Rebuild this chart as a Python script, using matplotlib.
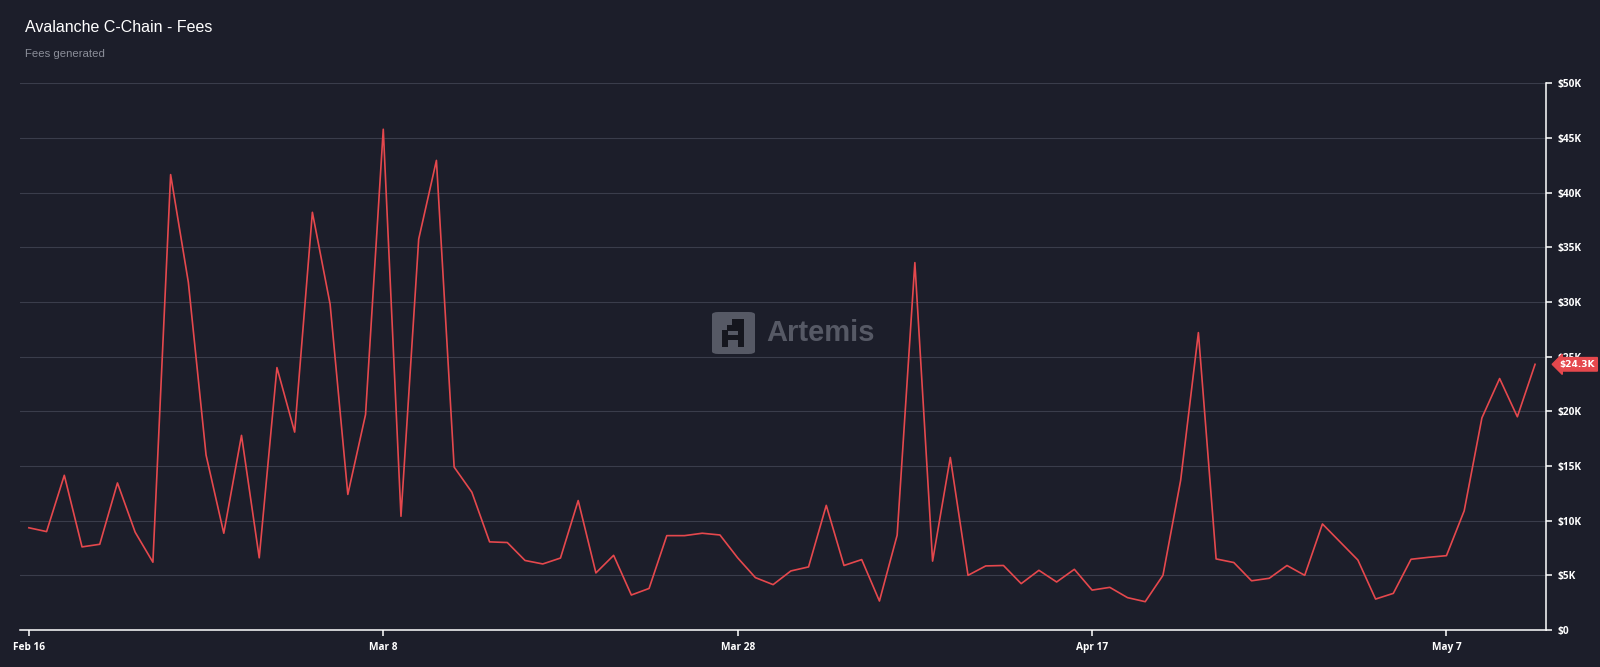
import pandas as pd
import matplotlib.pyplot as plt
import matplotlib.dates as mdates
from matplotlib.ticker import FuncFormatter, MultipleLocator
from matplotlib.patches import FancyBboxPatch, Rectangle

# daily fees in $K, Feb 16 2023 -> May 12 2023
start_date = '2023-02-16'
fees_k = [9.35, 9.0, 14.15, 7.6, 7.84, 13.45, 8.94, 6.2, 41.65, 31.8,
          16.0, 8.85, 17.8, 6.6, 24.0, 18.1, 38.2, 29.8, 12.4, 19.7,
          45.8, 10.4, 35.75, 42.95, 14.9, 12.6, 8.06, 8.0, 6.36, 6.04,
          6.58, 11.84, 5.22, 6.83, 3.2, 3.8, 8.63, 8.63, 8.85, 8.69,
          6.6, 4.79, 4.15, 5.4, 5.77, 11.4, 5.9, 6.44, 2.65, 8.67,
          33.6, 6.3, 15.78, 5.0, 5.86, 5.9, 4.24, 5.46, 4.39, 5.55,
          3.65, 3.9, 2.96, 2.59, 5.0, 13.7, 27.2, 6.5, 6.17, 4.5,
          4.73, 5.9, 5.0, 9.7, 8.05, 6.4, 2.83, 3.35, 6.47, 6.65,
          6.8, 10.9, 19.4, 23.0, 19.5, 24.3]
tick_dates = ['2023-02-16', '2023-03-08', '2023-03-28', '2023-04-17', '2023-05-07']
tick_labels = ['Feb 16', 'Mar 8', 'Mar 28', 'Apr 17', 'May 7']
last_label = '$24.3K'

dates = pd.date_range(start_date, periods=len(fees_k), freq='D')
fees = [v * 1000 for v in fees_k]

bg = '#1c1e2a'
red = '#e5484d'

fig = plt.figure(figsize=(16, 6.67), dpi=100, facecolor=bg)
ax = fig.add_axes([20 / 1600, 37 / 667, 1525.7 / 1600, 546.7 / 667])
ax.set_facecolor(bg)

ax.plot(dates, fees, color=red, linewidth=1.2, zorder=3)

# axes limits
d0 = mdates.date2num(dates[0])
ax.set_xlim(d0 - 0.5, d0 + 85.6)
ax.set_ylim(0, 50000)

# grid
ax.yaxis.set_major_locator(MultipleLocator(5000))
ax.grid(axis='y', color='#3a3d4b', linewidth=0.8)
ax.set_axisbelow(True)

# spines
for s in ['top', 'left']:
    ax.spines[s].set_visible(False)
for s in ['right', 'bottom']:
    ax.spines[s].set_color('white')
    ax.spines[s].set_linewidth(1.1)

ax.yaxis.tick_right()
ax.yaxis.set_major_formatter(FuncFormatter(lambda v, p: '$0' if v == 0 else '$%dK' % (v / 1000)))
ax.set_xticks(pd.to_datetime(tick_dates))
ax.set_xticklabels(tick_labels)
ax.tick_params(axis='both', colors='white', length=4.5, width=1.1, labelsize=7.3, pad=4)
for lab in ax.get_xticklabels() + ax.get_yticklabels():
    lab.set_fontweight('bold')
    lab.set_fontfamily(['Open Sans', 'DejaVu Sans'])

# last value tag
ax.annotate(last_label, xy=(1.0, fees[-1]), xycoords=('axes fraction', 'data'),
            xytext=(10, 0), textcoords='offset points', ha='left', va='center',
            fontsize=6.5, color='white', fontweight='bold', annotation_clip=False,
            bbox=dict(boxstyle='larrow,pad=0.25', fc=red, ec=red))

# titles
fig.text(25 / 1600, 1 - 27 / 667, 'Avalanche C-Chain - Fees', color='white',
         fontsize=11.5, family='Liberation Sans', va='center', ha='left')
fig.text(25 / 1600, 1 - 54 / 667, 'Fees generated', color='#8b8e99',
         fontsize=8.2, family='Liberation Sans', va='center', ha='left')

# watermark
def px(x, y):
    return x / 1600, 1 - y / 667

bx, by = px(712, 354)
fig.patches.append(FancyBboxPatch((bx, by), 43 / 1600, 42 / 667, transform=fig.transFigure,
                                  boxstyle='round,pad=0,rounding_size=0.004', fc='#5d606c',
                                  ec='none', alpha=0.9, zorder=5))
for x0, y0, w, h in [(738, 319, 6, 28), (722, 330, 6, 17), (722, 335, 22, 5),
                     (732, 319, 12, 6), (727, 325, 11, 6)]:
    rx, ry = px(x0, y0 + h)
    fig.patches.append(Rectangle((rx, ry), w / 1600, h / 667, transform=fig.transFigure,
                                 fc='#15161e', ec='none', zorder=6))
fig.text(766 / 1600, 1 - 333 / 667, 'Artemis', color='#5d606c', fontsize=21,
         fontweight='bold', family='Liberation Sans', va='center', ha='left', alpha=0.9)

fig.savefig('out.png', dpi=100, facecolor=bg)
